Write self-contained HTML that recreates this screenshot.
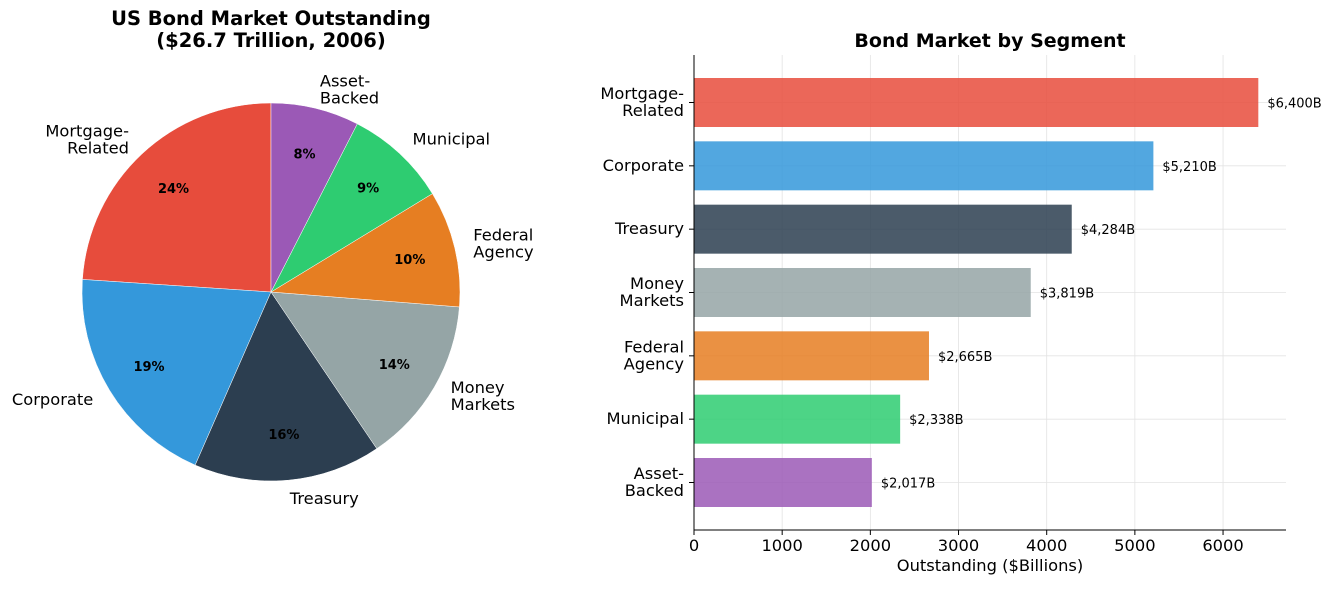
<!DOCTYPE html>
<html><head><meta charset="utf-8"><style>
body{margin:0;background:#fff;font-family:"Liberation Sans","DejaVu Sans",sans-serif;}
svg text{font-family:"DejaVu Sans","Liberation Sans",sans-serif;}
</style></head><body>
<svg id="c" width="1335" height="584" xmlns="http://www.w3.org/2000/svg"></svg>
<script>
const categories=["Mortgage-Related","Corporate","Treasury","Money Markets","Federal Agency","Municipal","Asset-Backed"];
const pieLabels=[["Mortgage-","Related"],["Corporate"],["Treasury"],["Money","Markets"],["Federal","Agency"],["Municipal"],["Asset-","Backed"]];
const values=[6400,5210,4284,3819,2665,2338,2017];
const valueLabels=["$6,400B","$5,210B","$4,284B","$3,819B","$2,665B","$2,338B","$2,017B"];
const colors=["#e74c3c","#3498db","#2c3e50","#95a5a6","#e67e22","#2ecc71","#9b59b6"];
const xTicks=[0,1000,2000,3000,4000,5000,6000];
const NS="http://www.w3.org/2000/svg";
const svg=document.getElementById('c');
function mk(t,a,p){const e=document.createElementNS(NS,t);for(const k in a)e.setAttribute(k,a[k]);(p||svg).appendChild(e);return e;}
function txt(s,a,p){const e=mk('text',a,p);e.textContent=s;return e;}
const LF=16.3;
// pie
const cx=271,cy=292,R=189;
const total=values.reduce((a,b)=>a+b,0);
let ang=90;
const pg=mk('g',{});


values.forEach((v,i)=>{
  const sweep=v/total*360,a0=ang*Math.PI/180,a1=(ang+sweep)*Math.PI/180;
  const x0=cx+R*Math.cos(a0),y0=cy-R*Math.sin(a0),x1=cx+R*Math.cos(a1),y1=cy-R*Math.sin(a1);
  const p=mk('path',{d:`M${cx},${cy}L${x0},${y0}A${R},${R} 0 ${sweep>180?1:0} 0 ${x1},${y1}Z`,fill:colors[i],stroke:'#fff','stroke-width':0.5},pg);
  
  
  const m=(ang+sweep/2)*Math.PI/180,c=Math.cos(m),s=Math.sin(m);
  const pt=txt(Math.round(v/total*100)+'%',{x:cx+0.755*R*c,y:cy-0.755*R*s+5,'text-anchor':'middle','font-size':13,'font-weight':'bold'},pg);
  
  
  const lx=cx+1.1*R*c,ly=cy-1.1*R*s,lines=pieLabels[i];
  const anchor=c>0.05?'start':(c<-0.05?'end':'middle');
  const t=txt('',{x:lx,y:ly-(lines.length-1)*8.5+5,'text-anchor':anchor,'font-size':LF},pg);
  
  
  lines.forEach((l,j)=>{const ts=mk('tspan',{x:lx,dy:j?17:0},t);ts.textContent=l;});
  ang+=sweep;
});
const pt1=txt('US Bond Market Outstanding',{x:271,y:25,'text-anchor':'middle','font-size':19.5,'font-weight':'bold'});

const pt2=txt('($26.7 Trillion, 2006)',{x:271,y:47,'text-anchor':'middle','font-size':19.5,'font-weight':'bold'});

// bars
const L=694,Rr=1286,T=55,B=530,xmax=6714;
const X=v=>L+v/xmax*(Rr-L);
const step=(B-T)/7.5;
const Y=i=>T+0.75*step+i*step;
const bg=mk('g',{});


xTicks.forEach(t=>{
  mk('line',{x1:X(t),x2:X(t),y1:T,y2:B,stroke:'#e3e3e3','stroke-width':0.8},bg);
  mk('line',{x1:X(t),x2:X(t),y1:B,y2:B+5,stroke:'#000'},bg);
  const tl=txt(t,{x:X(t),y:B+21,'text-anchor':'middle','font-size':LF},bg);
  
});
categories.forEach((c,i)=>mk('line',{x1:L,x2:Rr,y1:Y(i),y2:Y(i),stroke:'#e3e3e3','stroke-width':0.8},bg));
values.forEach((v,i)=>{
  const r=mk('rect',{x:L,y:Y(i)-24.5,width:X(v)-L,height:49,fill:colors[i],'fill-opacity':0.85},bg);
  
  
  const vl=txt(valueLabels[i],{x:X(v)+9,y:Y(i)+5,'font-size':13},bg);
  
  mk('line',{x1:L-5,x2:L,y1:Y(i),y2:Y(i),stroke:'#000'},bg);
  const lines=pieLabels[i];
  const t=txt('',{x:L-10,y:Y(i)-(lines.length-1)*8.5+5,'text-anchor':'end','font-size':LF},bg);
  
  lines.forEach((l,j)=>{const ts=mk('tspan',{x:L-10,dy:j?17:0},t);ts.textContent=l;});
});
mk('line',{x1:L,x2:L,y1:T,y2:B,stroke:'#000','stroke-width':1},bg);
mk('line',{x1:L,x2:Rr,y1:B,y2:B,stroke:'#000','stroke-width':1},bg);
const bt=txt('Bond Market by Segment',{x:990,y:47,'text-anchor':'middle','font-size':19,'font-weight':'bold'});

const xt=txt('Outstanding ($Billions)',{x:990,y:571,'text-anchor':'middle','font-size':LF},bg);

</script>
</body></html>
